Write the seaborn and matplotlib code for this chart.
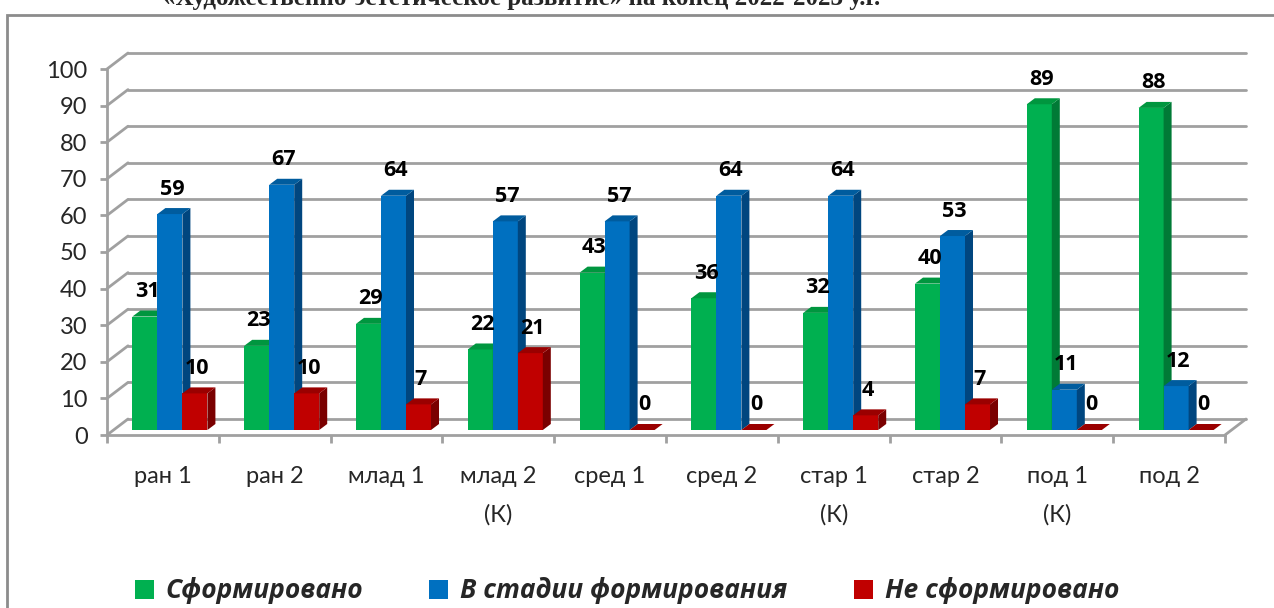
import pandas as pd
import seaborn as sns
import matplotlib.pyplot as plt
from matplotlib.patches import Polygon, Rectangle, Patch
from matplotlib.transforms import ScaledTranslation


groups = ["ран 1", "ран 2", "млад 1", "млад 2\n(К)", "сред 1",
          "сред 2", "стар 1\n(К)", "стар 2", "под 1\n(К)", "под 2"]
series = ["Сформировано", "В стадии формирования", "Не сформировано"]
formed = [31, 23, 29, 22, 43, 36, 32, 40, 89, 88]
in_progress = [59, 67, 64, 57, 57, 64, 64, 53, 11, 12]
not_formed = [10, 10, 7, 21, 0, 0, 4, 7, 0, 0]
y_ticks = list(range(0, 101, 10))

front_colors = ["#00B050", "#0070C0", "#C00000"]
side_colors = ["#007A36", "#00467F", "#7A0000"]
top_colors = ["#00963F", "#005C9E", "#9A0000"]
grid_color = "#A0A0A0"
bold_font = ["Open Sans", "DejaVu Sans"]

df = pd.DataFrame({
    "group": groups * 3,
    "series": [s for s in series for _ in groups],
    "value": formed + in_progress + not_formed,
})

sns.set_style("white")
plt.rcParams["font.family"] = ["Lato", "DejaVu Sans"]

fig = plt.figure(figsize=(12.74, 6.08), dpi=100)
ax = fig.add_axes([107 / 1274, 1 - 435 / 608, 1118 / 1274, 366 / 608])

sns.barplot(data=df, x="group", y="value", hue="series", hue_order=series,
            palette=front_colors, width=0.671, gap=0, saturation=1,
            legend=False, ax=ax)
ax.set_xlim(-0.5, 9.5)
ax.set_ylim(0, 100)

# pixel -> data conversions for the fake 3D depth
px_x = 1118 / 10
px_y = 366 / 100
wall_dx, wall_dy = 21 / px_x, 16 / px_y
bar_shift = ScaledTranslation(7 / 100, 5 / 100, fig.dpi_scale_trans)
bar_dx, bar_dy = 8 / px_x, 6 / px_y

# back wall gridlines and left wall diagonals
for v in y_ticks:
    ax.plot([-0.5 + wall_dx, 9.5 + wall_dx], [v + wall_dy, v + wall_dy],
            color=grid_color, lw=2, clip_on=False, zorder=0.5)
    ax.plot([-0.5, -0.5 + wall_dx], [v, v + wall_dy],
            color=grid_color, lw=2, clip_on=False, zorder=0.5)
ax.plot([9.5, 9.5 + wall_dx], [0, wall_dy], color=grid_color, lw=2,
        clip_on=False, zorder=0.5)

# bars: shift into the middle plane and add side / top faces
for k, cont in enumerate(ax.containers):
    for bar, val in zip(cont, [formed, in_progress, not_formed][k]):
        tr = ax.transData + bar_shift
        bar.set_transform(tr)
        bar.set_linewidth(0)
        bar.set_zorder(2 + k)
        x0 = bar.get_x()
        x1 = x0 + bar.get_width()
        h = bar.get_height()
        side = Polygon([(x1, 0), (x1 + bar_dx, bar_dy), (x1 + bar_dx, h + bar_dy), (x1, h)],
                       closed=True, facecolor=side_colors[k], lw=0,
                       transform=tr, clip_on=False, zorder=2 + k)
        top = Polygon([(x0, h), (x0 + bar_dx, h + bar_dy), (x1 + bar_dx, h + bar_dy), (x1, h)],
                      closed=True, facecolor=top_colors[k], lw=0,
                      transform=tr, clip_on=False, zorder=2 + k)
        ax.add_patch(side)
        ax.add_patch(top)
        ax.annotate(str(val), ((x0 + x1) / 2, h), xycoords=tr,
                    xytext=(1.5, 18), textcoords="offset points",
                    ha="center", va="center", fontsize=15.5, fontweight="bold",
                    family=bold_font, color="black", zorder=10,
                    annotation_clip=False)

# axes styling
for s in ["top", "right"]:
    ax.spines[s].set_visible(False)
for s in ["left", "bottom"]:
    ax.spines[s].set_color(grid_color)
    ax.spines[s].set_linewidth(2)
ax.set_yticks(y_ticks)
ax.tick_params(axis="y", length=5, width=2, color=grid_color, pad=9,
               labelsize=17, left=True)
ax.set_xticks(range(len(groups)))
ax.set_xticklabels(groups, linespacing=2.0)
ax.set_xticks([i - 0.5 for i in range(len(groups) + 1)], minor=True)
ax.tick_params(axis="x", which="major", length=0, pad=22, labelsize=17)
ax.tick_params(axis="x", which="minor", length=6, width=2, color=grid_color,
               bottom=True)
for lab in ax.get_xticklabels():
    lab.set_verticalalignment("top")
ax.set_xlabel("")
ax.set_ylabel("")

# title (cut by the top edge) and the chart frame
fig.text(163 / 1274, 1 - 5 / 608,
         "«Художественно-эстетическое развитие» на конец 2022-2023 у.г.",
         ha="left", va="baseline", fontsize=18, fontweight="bold",
         family=["Liberation Serif", "DejaVu Serif"])
fig.patches.append(Rectangle((7 / 1274, -0.1), 1.1, 1.1 - 15 / 608, fill=False,
                             edgecolor="#8C8C8C", lw=2, transform=fig.transFigure))

handles = [Patch(facecolor=c, edgecolor="none") for c in front_colors]
fig.legend(handles, series, loc="center", bbox_to_anchor=(627 / 1274, 1 - 591 / 608),
           ncol=3, frameon=False, handlelength=0.72, handleheight=0.72,
           handletextpad=0.45, columnspacing=2.5,
           prop={"size": 19, "weight": "bold", "style": "italic",
                 "family": bold_font})

fig.savefig("out.png", dpi=100)
